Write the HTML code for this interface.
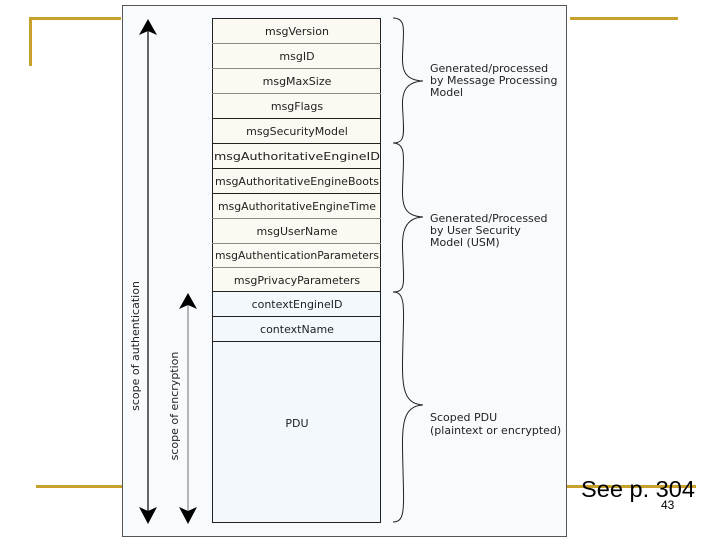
<!DOCTYPE html>
<html><head><meta charset="utf-8"><style>
body{margin:0;width:720px;height:540px;background:#fff;position:relative;overflow:hidden;font-family:"DejaVu Sans","Liberation Sans",sans-serif}
</style></head><body>
<svg width="720" height="540" style="position:absolute;left:0;top:0">
<g fill="#c8a12a">
<rect x="29" y="17" width="3" height="49"/><rect x="29" y="17" width="92" height="3"/>
<rect x="570" y="17" width="108" height="3"/>
<rect x="36" y="485" width="86" height="3"/>
<rect x="566" y="485" width="130" height="3"/>
</g>
<rect x="122.5" y="5.5" width="444" height="531" fill="#f7fbfe" stroke="#555" stroke-width="1"/>
<g stroke="#222" stroke-width="1" font-size="11" text-anchor="middle" font-family="DejaVu Sans,sans-serif">
<rect x="212.5" y="18.5" width="168" height="273" fill="#fcf8f2"/>
<rect x="212.5" y="291.5" width="168" height="231" fill="#f3f8fc"/>
<g stroke="#888"><line x1="212" y1="43.5" x2="381" y2="43.5"/><line x1="212" y1="68.5" x2="381" y2="68.5"/><line x1="212" y1="93.5" x2="381" y2="93.5"/></g>
<line x1="212" y1="118.5" x2="381" y2="118.5"/><line x1="212" y1="143.5" x2="381" y2="143.5"/><line x1="212" y1="168.5" x2="381" y2="168.5"/><line x1="212" y1="193.5" x2="381" y2="193.5"/>
<g stroke="#888"><line x1="212" y1="218.5" x2="381" y2="218.5"/><line x1="212" y1="243.5" x2="381" y2="243.5"/><line x1="212" y1="267.5" x2="381" y2="267.5"/></g>
<line x1="212" y1="291.5" x2="381" y2="291.5"/><line x1="212" y1="316.5" x2="381" y2="316.5"/><line x1="212" y1="341.5" x2="381" y2="341.5"/>
<g stroke="none" fill="#222">
<text x="297" y="35">msgVersion</text><text x="297" y="60">msgID</text><text x="297" y="85">msgMaxSize</text><text x="297" y="110">msgFlags</text>
<text x="297" y="135">msgSecurityModel</text><text x="297" y="160" textLength="166" lengthAdjust="spacingAndGlyphs">msgAuthoritativeEngineID</text><text x="297" y="185" textLength="164" lengthAdjust="spacingAndGlyphs">msgAuthoritativeEngineBoots</text>
<text x="297" y="210" textLength="158" lengthAdjust="spacingAndGlyphs">msgAuthoritativeEngineTime</text><text x="297" y="235">msgUserName</text>
<text x="297" y="259" textLength="164" lengthAdjust="spacingAndGlyphs">msgAuthenticationParameters</text><text x="297" y="284">msgPrivacyParameters</text>
<text x="297" y="308">contextEngineID</text><text x="297" y="333">contextName</text><text x="297" y="427">PDU</text>
</g></g>
<line x1="148" y1="30" x2="148" y2="512" stroke="#000" stroke-width="1.2"/>
<polygon points="148,19 139,35 148,31 157,35" fill="#000"/><polygon points="148,524 139,507 148,511 157,507" fill="#000"/>
<line x1="188" y1="303" x2="188" y2="512" stroke="#888" stroke-width="1.2"/>
<polygon points="188,293 179,309 188,305 197,309" fill="#000"/><polygon points="188,524 179,507 188,511 197,507" fill="#000"/>
<g font-size="11" fill="#222" font-family="DejaVu Sans,sans-serif" text-anchor="middle">
<text transform="translate(139,346) rotate(-90)">scope of authentication</text>
<text transform="translate(178,406) rotate(-90)">scope of encryption</text>
</g>
<g fill="none" stroke="#222" stroke-width="1">
<path d="M393,18 C405,18 404,28 403,45 C402,65 400,80 423,81 C400,82 402,100 403,115 C404,135 405,143 393,143"/>
<path d="M393,143 C405,143 404,155 403,175 C402,200 400,216 423,217 C400,218 402,240 403,260 C404,285 405,292 393,292"/>
<path d="M393,292 C405,292 404,305 403,340 C402,380 400,404 423,405 C400,406 402,430 403,470 C404,510 405,522 393,522"/>
</g>
<g font-size="11" fill="#222" font-family="DejaVu Sans,sans-serif">
<text x="430" y="72">Generated/processed</text><text x="430" y="84">by Message Processing</text><text x="430" y="96">Model</text>
<text x="430" y="222">Generated/Processed</text><text x="430" y="234">by User Security</text><text x="430" y="246">Model (USM)</text>
<text x="430" y="421">Scoped PDU</text><text x="430" y="434">(plaintext or encrypted)</text>
</g>
<text x="581" y="497" font-size="23" font-family="Liberation Sans,sans-serif" fill="#000" textLength="114" lengthAdjust="spacingAndGlyphs">See p. 304</text>
<text x="661" y="509" font-size="12" font-family="Liberation Sans,sans-serif" fill="#000">43</text>
</svg>
</body></html>
